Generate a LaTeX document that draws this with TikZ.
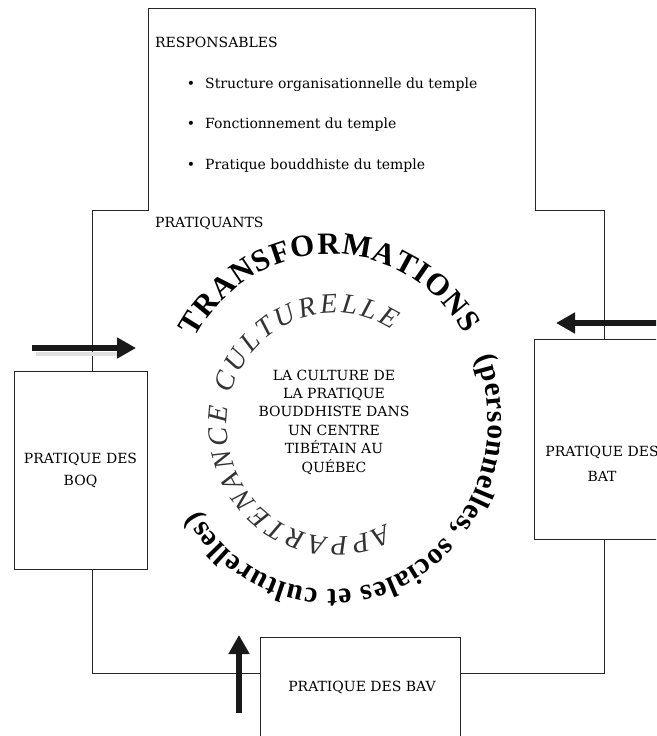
\documentclass[tikz,border=0pt]{standalone}
\usepackage{fontspec}
\setmainfont{DejaVu Serif}
\newfontfamily\arcfont{Liberation Serif}
\usetikzlibrary{decorations.text,arrows.meta}
\newcommand\outerfnt{\arcfont\bfseries\fontsize{31pt}{31pt}\selectfont}
\newcommand\outerlow{\arcfont\bfseries\fontsize{29.5pt}{29.5pt}\selectfont}
\newcommand\innerfnt{\arcfont\itshape\fontsize{28pt}{28pt}\selectfont}
\begin{document}
\begin{tikzpicture}[x=1pt,y=1pt,
  frame/.style={line width=0.9pt, draw=black!85},
  pbox/.style={frame, rectangle, inner sep=0pt, align=center, font=\fontsize{14pt}{22pt}\selectfont},
  lbl/.style={inner sep=0pt, font=\fontsize{14pt}{18.4pt}\selectfont},
  bigarrow/.style={line width=6.5pt, draw=black!90, -{Triangle[length=19pt,width=20pt]}},
  arcdeco/.style={decorate, decoration={text along path, text align=fit to path, text={#1}}},
]
\useasboundingbox (0,0) rectangle (656,-736);
\clip (0,0) rectangle (656,-736);

% practice boxes
\node[pbox, minimum width=133pt, minimum height=198pt] (boq) at (80.5,-470) {PRATIQUE DES\\BOQ};
\node[pbox, minimum width=136pt, minimum height=200pt] (bat) at (602,-439) {};
\node[lbl, align=center, font=\fontsize{14pt}{25pt}\selectfont] (battxt) at (602,-464) {PRATIQUE DES\\BAT};
\node[pbox, minimum width=200pt, minimum height=163pt] (bav) at (360,-718.5) {};
\node[lbl] (bavtxt) at (362,-687) {PRATIQUE DES BAV};

% outline of responsables / pratiquants
\coordinate (c1) at (92,-210);
\coordinate (c2) at (148,-210);
\coordinate (c3) at (148,-8);
\coordinate (c4) at (535,-8);
\coordinate (c5) at (535,-210);
\coordinate (c6) at (604,-210);
\coordinate (c7) at (604,-673);
\coordinate (c8) at (92,-673);
\draw[frame] (boq.north -| c1) -- (c1) -- (c2) -- (c3) -- (c4) -- (c5) -- (c6) -- (bat.north -| c6);
\draw[frame] (bat.south -| c6) -- (c7) -- (bav.east |- c7);
\draw[frame] (bav.west |- c8) -- (c8) -- (boq.south -| c8);

% texts
\node[lbl, anchor=base west] (resp) at (155,-47) {RESPONSABLES};
\node[lbl, anchor=base] (b1) at (191,-88) {•};
\node[lbl, anchor=base] (b2) at (191,-128) {•};
\node[lbl, anchor=base] (b3) at (191,-169) {•};
\node[lbl, anchor=base west] (i1) at (205,-88) {Structure organisationnelle du temple};
\node[lbl, anchor=base west] (i2) at (205,-128) {Fonctionnement du temple};
\node[lbl, anchor=base west] (i3) at (205,-169) {Pratique bouddhiste du temple};
\node[lbl, anchor=base west] (prat) at (155,-227) {PRATIQUANTS};
\node[lbl, align=center] (centre) at (334,-422) {LA CULTURE DE\\LA PRATIQUE\\BOUDDHISTE DANS\\UN CENTRE\\TIBÉTAIN AU\\QUÉBEC};

% circular texts
\coordinate (oc) at (331,-422);
\coordinate (ic) at (335,-425);
\path[arcdeco={|\outerfnt|TRANSFORMATIONS}] ([shift={(150:157pt and 168pt)}]oc) arc[start angle=150, end angle=31.5, x radius=157pt, y radius=168pt];
\path[arcdeco={|\outerlow|(personnelles, sociales et culturelles)}] ([shift={(22.5:157pt and 168pt)}]oc) arc[start angle=22.5, end angle=-148, x radius=157pt, y radius=168pt];
\path[arcdeco={|\innerfnt\color{black!80}|APPARTENANCE CULTURELLE}] ([shift={(-62:108pt and 112pt)}]ic) arc[start angle=-62, end angle=-302, x radius=108pt, y radius=112pt];

% arrows
\coordinate (sh0) at (36,-354);
\coordinate (sh1) at (117,-354);
\draw[gray!25, line width=4pt] (sh0) -- (sh1);
\coordinate (la0) at (32,-348);
\coordinate (la1) at (136,-348);
\draw[bigarrow] (la0) -- (la1);
\coordinate (ra0) at (660,-323);
\coordinate (ra1) at (556,-323);
\draw[bigarrow] (ra0) -- (ra1);
\coordinate (ua0) at (239,-713);
\coordinate (ua1) at (239,-635);
\draw[bigarrow] (ua0) -- (ua1);
\end{tikzpicture}
\end{document}
